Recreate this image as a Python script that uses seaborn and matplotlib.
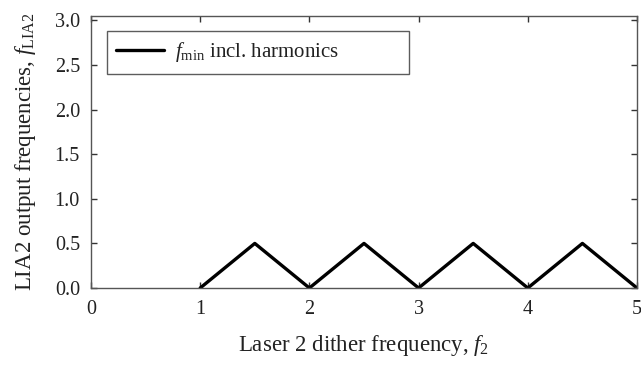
import matplotlib
matplotlib.use("Agg")
import matplotlib.pyplot as plt
import seaborn as sns
import pandas as pd

# Laser 2 dither frequency and resulting minimum LIA2 output frequency
dither_freq = [1.0, 1.5, 2.0, 2.5, 3.0, 3.5, 4.0, 4.5, 5.0]
lia2_freq = [0.0, 0.5, 0.0, 0.5, 0.0, 0.5, 0.0, 0.5, 0.0]

x_ticks = [0, 1, 2, 3, 4, 5]
y_ticks = [0.0, 0.5, 1.0, 1.5, 2.0, 2.5, 3.0]

sns.set_theme(style="white")
plt.rcParams["font.family"] = ["Liberation Serif", "DejaVu Serif"]
plt.rcParams["mathtext.fontset"] = "custom"
plt.rcParams["mathtext.rm"] = "Liberation Serif"
plt.rcParams["mathtext.it"] = "Liberation Serif:italic"

df = pd.DataFrame({"f2": dither_freq, "flia": lia2_freq})

fig = plt.figure(figsize=(6.41, 3.66), dpi=100)
ax = fig.add_axes([91 / 641, 1 - 288 / 366, (637 - 91) / 641, (288 - 16) / 366])

sns.lineplot(data=df, x="f2", y="flia", ax=ax, color="black", linewidth=2.4,
             label=r"$f_{\mathrm{min}}$ incl. harmonics")

ax.set_xlim(0, 5)
ax.set_ylim(0, 3.05)
ax.set_xticks(x_ticks)
ax.set_xticklabels([str(t) for t in x_ticks])
ax.set_yticks(y_ticks)
ax.set_yticklabels([f"{t:.1f}" for t in y_ticks])

ax.tick_params(direction="in", length=4, width=1, colors="#333333",
               labelcolor="#222222", labelsize=14.5, top=True, right=True,
               bottom=True, left=True)
ax.tick_params(axis="x", pad=9)
ax.tick_params(axis="y", pad=8)
for s in ax.spines.values():
    s.set_color("#555555")
    s.set_linewidth(1.0)

ax.set_xlabel(r"Laser 2 dither frequency, $f_2$", fontsize=16.5, color="#222222", labelpad=10)
ax.set_ylabel(r"LIA2 output frequencies, $f_{\mathrm{LIA2}}$", fontsize=16.5, color="#222222", labelpad=12)

leg = ax.legend(loc="upper left", bbox_to_anchor=(0.029, 0.779, 0.553, 0.166),
                mode="expand", fontsize=15, frameon=True, fancybox=False,
                handlelength=2.3, borderpad=0.45, handletextpad=0.5,
                borderaxespad=0)
leg.get_frame().set_edgecolor("#333333")
leg.get_frame().set_linewidth(1.0)
for t in leg.get_texts():
    t.set_color("#222222")

fig.savefig("out.png", dpi=100)
